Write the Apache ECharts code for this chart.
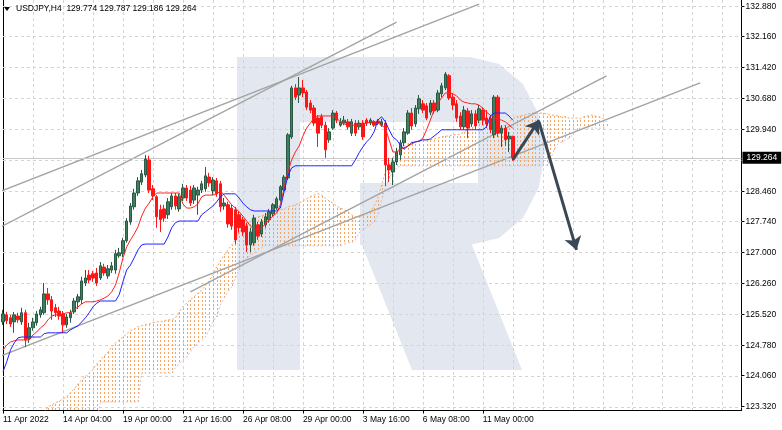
<!DOCTYPE html>
<html><head><meta charset="utf-8">
<script src="https://cdn.jsdelivr.net/npm/echarts@6/dist/echarts.min.js"></script>
<style>html,body{margin:0;padding:0;background:#fff}#c{width:782px;height:430px}</style>
</head><body><div id="c"></div>
<script>
// ---------- data ----------
const barCount = 198;              // visible H4 slots incl. empty future area
const xLabelStep = 16;
const xTickLabels = ['11 Apr 2022','14 Apr 04:00','19 Apr 00:00','21 Apr 16:00','26 Apr 08:00','29 Apr 00:00','3 May 16:00','6 May 08:00','11 May 00:00'];
const yTickLabels = ['132.880','132.160','131.420','130.680','129.940','128.460','127.740','127.000','126.260','125.520','124.780','124.060','123.320'];
const yExtraGrid = [129.20];
const yMin = 123.2245, yMax = 133.03;

const open = [125.34,125.51,125.44,125.34,125.48,125.34,125.56,124.94,125.20,125.32,
125.51,125.56,126.01,125.87,125.68,125.60,125.53,125.27,125.44,125.58,
125.82,125.87,126.27,126.46,126.49,126.51,126.39,126.65,126.44,126.58,
126.58,126.92,126.97,127.28,127.73,128.09,128.42,128.68,128.85,129.21,
128.52,128.33,128.02,128.04,127.90,128.09,128.35,128.04,128.30,128.54,
128.49,128.25,128.37,128.49,128.52,128.80,128.47,128.71,128.64,128.11,
128.14,128.06,128.02,127.90,127.78,127.63,127.18,127.23,127.66,127.44,
127.66,127.78,127.92,128.06,128.25,128.49,128.78,129.76,130.93,130.76,
130.93,130.83,130.57,130.45,130.21,130.24,130.04,129.69,129.97,130.33,
130.04,130.09,130.12,129.85,130.09,130.00,130.09,130.16,130.09,130.12,
130.14,130.04,130.09,129.09,128.92,129.16,129.33,129.62,129.85,130.33,
130.07,130.43,130.55,130.50,130.35,130.57,130.40,130.79,130.93,131.22,
130.71,130.55,130.26,130.00,130.38,130.07,130.31,130.16,130.40,130.21,
130.21,129.81,130.71,129.85,129.97,129.71,129.774];
const high = [125.63,125.58,125.51,125.58,125.56,125.68,125.63,125.32,125.44,125.60,
125.70,126.27,126.15,125.96,125.77,125.70,125.60,125.53,125.63,125.91,
126.01,126.42,126.58,126.58,126.56,126.63,126.77,126.73,126.70,126.77,
127.06,127.11,127.35,127.82,128.18,128.52,128.80,128.97,129.33,129.31,
128.61,128.37,128.14,128.14,128.30,128.42,128.42,128.40,128.64,128.61,
128.59,128.61,128.57,128.71,129.04,128.90,128.80,128.78,128.71,128.30,
128.21,128.14,128.09,127.99,127.85,127.71,127.59,127.90,127.73,127.80,
127.94,128.04,128.18,128.33,128.61,128.85,129.85,130.98,131.02,131.19,
131.12,130.88,130.64,130.52,130.28,130.31,130.12,129.97,130.40,130.38,
130.21,130.26,130.19,130.19,130.16,130.16,130.16,130.21,130.21,130.16,
130.19,130.19,130.16,129.26,129.26,129.50,129.69,129.97,130.40,130.45,
130.52,130.76,130.64,130.57,130.64,130.64,130.88,131.05,131.31,131.26,
130.81,130.64,130.35,130.50,130.45,130.40,130.40,130.52,130.47,130.40,
130.28,130.76,130.76,130.04,130.04,129.88,129.787];
const low = [125.27,125.29,125.22,125.08,125.32,125.27,124.74,124.84,125.13,125.25,
125.44,125.51,125.75,125.39,125.46,125.39,125.08,125.20,125.32,125.53,
125.65,125.77,126.20,126.27,126.30,126.20,126.34,126.44,126.37,126.51,
126.49,126.87,126.89,127.23,127.66,128.02,128.35,128.61,128.80,128.42,
128.25,127.59,127.49,127.73,127.80,128.02,128.02,127.97,128.23,128.23,
128.11,128.16,127.90,128.42,128.45,128.57,128.37,128.33,127.97,128.02,
127.59,127.54,127.20,127.47,127.39,127.01,127.01,127.16,127.30,127.37,
127.59,127.71,127.85,128.02,128.21,128.45,128.73,129.71,130.64,130.57,
130.71,130.40,130.33,130.02,129.52,129.97,129.26,129.62,129.93,130.09,
130.00,130.04,129.93,129.78,129.78,129.93,129.69,130.02,130.04,130.00,
130.04,130.00,128.59,128.68,128.61,129.09,129.21,129.54,129.81,129.93,
130.00,130.31,130.33,130.16,130.28,130.31,130.35,130.71,130.88,130.64,
130.40,130.12,129.93,129.93,129.73,130.00,129.93,130.09,130.04,129.97,
129.85,129.73,129.76,129.52,129.54,129.40,129.186];
const close = [125.53,125.37,125.29,125.51,125.39,125.56,124.91,125.20,125.34,125.53,
125.63,126.01,125.87,125.60,125.56,125.48,125.27,125.46,125.56,125.84,
125.94,126.32,126.39,126.34,126.39,126.27,126.68,126.51,126.61,126.68,
126.97,126.99,127.28,127.75,128.11,128.42,128.71,128.88,129.23,128.49,
128.35,127.85,127.78,127.82,128.21,128.35,128.11,128.33,128.54,128.30,
128.18,128.54,128.49,128.64,128.83,128.66,128.73,128.40,128.09,128.18,
127.68,127.63,127.30,127.59,127.49,127.18,127.49,127.82,127.39,127.73,
127.85,127.97,128.14,128.28,128.57,128.80,129.81,130.93,130.71,130.93,
130.81,130.47,130.40,130.09,129.85,130.04,129.45,129.88,130.33,130.16,
130.12,130.16,130.00,130.12,129.85,130.09,129.76,130.09,130.16,130.04,
130.09,130.12,129.09,128.97,129.16,129.40,129.62,129.88,130.33,130.02,
130.45,130.67,130.40,130.21,130.57,130.38,130.81,130.98,131.26,130.69,
130.52,130.21,130.00,130.40,129.97,130.31,130.02,130.43,130.16,130.07,
129.93,130.71,129.85,129.97,129.69,129.78,129.264];

const tenkan = [124.67,124.79,124.86,124.89,124.91,124.91,124.91,124.91,125.03,125.10,
125.20,125.27,125.39,125.48,125.51,125.51,125.53,125.56,125.56,125.63,
125.70,125.77,125.82,125.82,125.82,125.84,125.87,125.91,125.96,126.06,
126.22,126.51,126.87,127.13,127.30,127.44,127.61,127.87,128.06,128.18,
128.33,128.42,128.42,128.42,128.42,128.42,128.42,128.42,128.16,128.06,
128.06,128.09,128.16,128.33,128.37,128.37,128.37,128.40,128.47,128.37,
128.25,128.14,128.06,127.97,127.87,127.75,127.63,127.56,127.56,127.59,
127.68,127.78,127.87,127.94,128.14,128.54,128.92,129.21,129.40,129.54,
129.78,129.97,130.09,130.21,130.26,130.26,130.26,130.26,130.26,130.21,
130.12,130.07,130.04,130.04,130.04,130.04,130.07,130.09,130.12,130.12,
130.09,130.04,129.97,129.69,129.40,129.40,129.45,129.50,129.54,129.59,
129.64,129.66,129.73,129.93,130.16,130.40,130.57,130.69,130.81,130.81,
130.79,130.74,130.64,130.59,130.57,130.55,130.55,130.52,130.45,130.35,
130.28,130.21,130.19,130.16,130.12,130.04,129.97];
const kijun = [124.15,124.39,124.67,124.84,124.96,124.98,124.98,124.98,124.98,124.98,
124.98,125.06,125.08,125.08,125.08,125.08,125.08,125.08,125.15,125.20,
125.25,125.34,125.44,125.56,125.70,125.79,125.84,125.84,125.84,125.84,
125.84,125.99,126.30,126.58,126.70,126.87,127.06,127.18,127.20,127.20,
127.20,127.20,127.20,127.20,127.37,127.59,127.71,127.75,127.75,127.75,
127.75,127.75,127.75,127.90,127.97,128.04,128.11,128.21,128.33,128.40,
128.40,128.40,128.40,128.30,128.18,128.09,128.02,127.99,127.99,127.99,
127.99,127.99,127.99,127.99,128.06,128.45,128.83,129.02,129.07,129.07,
129.07,129.07,129.07,129.07,129.07,129.07,129.07,129.07,129.07,129.07,
129.07,129.07,129.07,129.07,129.21,129.38,129.52,129.64,129.73,129.88,
130.16,130.24,130.12,129.93,129.76,129.69,129.57,129.47,129.54,129.62,
129.64,129.66,129.69,129.69,129.71,129.78,129.85,129.93,129.93,129.93,
129.93,129.93,129.93,129.93,129.93,129.93,129.93,129.93,129.93,130.00,
130.26,130.33,130.33,130.33,130.33,130.26,130.16];

const kumoStart = 10;   // first bar index of the cloud arrays
const spanA = [123.14,123.19,123.31,123.36,123.41,123.45,123.50,123.55,123.65,123.74,
123.86,123.96,124.03,124.12,124.20,124.34,124.43,124.53,124.62,124.74,
124.84,124.91,124.98,125.06,125.13,125.17,125.22,125.25,125.27,125.29,
125.32,125.34,125.34,125.37,125.39,125.39,125.44,125.58,125.70,125.79,
125.87,125.94,126.03,126.10,126.20,126.32,126.46,126.65,126.80,126.94,
127.06,127.18,127.30,127.47,127.59,127.68,127.75,127.82,127.85,127.87,
127.90,127.94,127.97,127.99,128.02,128.04,128.09,128.11,128.14,128.18,
128.23,128.28,128.33,128.37,128.40,128.37,128.30,128.23,128.18,128.11,
128.06,128.02,127.97,127.90,127.85,127.85,127.87,127.92,127.97,128.11,
128.30,128.61,128.92,129.09,129.26,129.40,129.50,129.54,129.59,129.64,
129.64,129.66,129.66,129.69,129.69,129.71,129.73,129.76,129.78,129.78,
129.81,129.81,129.83,129.88,129.93,129.97,130.02,130.09,130.14,130.16,
130.12,130.04,130.00,130.00,130.04,130.12,130.19,130.24,130.26,130.28,
130.31,130.33,130.33,130.33,130.33,130.31,130.28,130.28,130.26,130.24,
130.24,130.21,130.21,130.21,130.19,130.24,130.26,130.28,130.26,130.24,
130.21,130.12];
const spanB = [123.00,123.00,123.00,123.00,123.00,123.00,123.00,123.00,123.00,123.00,
123.00,123.00,123.00,123.00,123.00,123.00,123.43,123.43,123.43,123.43,
123.43,123.43,123.43,123.43,123.43,123.43,123.43,124.12,124.12,124.12,
124.12,124.12,124.12,124.12,124.12,124.12,124.24,124.34,124.43,124.51,
124.62,124.74,124.84,124.91,124.98,125.15,125.34,125.46,125.75,125.91,
126.06,126.18,126.39,126.58,126.73,126.87,126.92,126.99,127.06,127.11,
127.16,127.16,127.16,127.16,127.16,127.16,127.16,127.16,127.16,127.16,
127.16,127.16,127.16,127.16,127.16,127.16,127.16,127.16,127.16,127.16,
127.16,127.20,127.23,127.23,127.30,127.47,127.54,127.59,127.66,127.73,
127.90,128.25,128.54,128.78,128.92,129.02,129.07,129.07,129.07,129.07,
129.07,129.07,129.07,129.07,129.07,129.07,129.07,129.07,129.07,129.07,
129.07,129.07,129.07,129.07,129.07,129.07,129.07,129.07,129.07,129.07,
129.07,129.07,129.07,129.07,129.07,129.07,129.07,129.07,129.07,129.07,
129.07,129.07,129.07,129.07,129.07,129.07,129.21,129.45,129.59,129.64,
129.69,129.73,129.81,129.93,129.97,129.97,129.97,129.97,129.97,129.97,
129.97,129.97];

const lastPrice = 129.264;
const headerText = 'USDJPY,H4  129.774 129.787 129.186 129.264';
// trend lines: [barIndex, price] pairs
const trendLines = [
  [[-0.72,128.45],[127.3,132.93]],
  [[-0.72,127.59],[105.4,132.50]],
  [[-0.72,124.51],[186.0,131.05]],
  [[49.95,126.06],[160.9,131.22]]
];
// forecast arrows
const arrows = [
  [[136,129.21],[142.5,130.16]],
  [[143,130.12],[153.4,127.06]]
];

// ---------- chart ----------
const chart = echarts.init(document.getElementById('c'), null, {renderer:'canvas'});
const cats = Array.from({length: barCount}, (_, i) => String(i));
const yTickValues = yTickLabels.map(parseFloat);
const gridValues = yTickValues.concat(yExtraGrid);
const candles = open.map((o, i) => [o, close[i], low[i], high[i]]);
const kumo = spanA.map((a, k) => [kumoStart + k, a, spanB[k]]);
const pad = Array(kumoStart).fill(null);
const FONT = 'Liberation Sans';

// watermark logo (decorative, pixel shapes)
const wm = '#e3e8f0';
const bowl = [[300,57],[470,57],[499,64],[523,84],[539,115],[545,151],[539,187],[523,218],[499,238],[470,245],[300,245]];
const option = {
  animation: false,
  backgroundColor: '#ffffff',
  grid: {left: 2.7, right: 40.55, top: 0, bottom: 19.5, containLabel: false},
  xAxis: {
    type: 'category', data: cats, boundaryGap: false,
    axisLine: {show: true, lineStyle: {color: '#000', width: 1}},
    axisTick: {show: true, length: 3, lineStyle: {color: '#000'},
      interval: (i) => i % xLabelStep === 0 && i / xLabelStep < xTickLabels.length},
    axisLabel: {show: true, align: 'left', margin: 5, color: '#000', fontFamily: FONT, fontSize: 8.5,
      interval: (i) => i % xLabelStep === 0 && i / xLabelStep < xTickLabels.length,
      formatter: (v, i) => (i % xLabelStep === 0 && xTickLabels[i / xLabelStep]) || ''},
    splitLine: {show: true, interval: 7, lineStyle: {color: '#d4d4d4', type: [3, 3], width: 1}}
  },
  yAxis: [{
    type: 'value', position: 'right', min: yMin, max: yMax,
    axisLine: {show: true, lineStyle: {color: '#000', width: 1}},
    axisTick: {show: true, length: 3, customValues: yTickValues, lineStyle: {color: '#000'}},
    axisLabel: {show: true, margin: 4, color: '#000', fontFamily: FONT, fontSize: 8.5,
      customValues: yTickValues, formatter: (v) => v.toFixed(3)},
    splitLine: {show: false}
  }, {
    type: 'value', position: 'left', min: yMin, max: yMax,
    axisLine: {show: true, lineStyle: {color: '#000', width: 1}},
    axisTick: {show: false}, axisLabel: {show: false}, splitLine: {show: false}
  }],
  graphic: {elements: [
    {type: 'rect', z: -10, silent: true, shape: {x: 237, y: 57, width: 63, height: 313}, style: {fill: wm}},
    {type: 'polygon', z: -10, silent: true, shape: {points: bowl}, style: {fill: wm}},
    {type: 'polygon', z: -10, silent: true, shape: {points: [[362,245],[472,245],[522,370],[412,370]]}, style: {fill: wm}},
    {type: 'rect', z: -9, silent: true, shape: {x: 300, y: 122, width: 178, height: 61}, style: {fill: '#fff'}},
    {type: 'rect', z: -9, silent: true, shape: {x: 300, y: 183, width: 60, height: 62}, style: {fill: '#fff'}},
    // header
    {type: 'polygon', z: 50, shape: {points: [[4,7],[10,7],[7,11]]}, style: {fill: '#000'}},
    {type: 'text', z: 50, left: 16, top: 4, style: {text: headerText, fill: '#000', font: '8.5px "Liberation Sans"'}}
  ]},
  series: [
    { // horizontal dashed grid lines
      type: 'custom', z: 1, silent: true, data: gridValues.map(v => [0, v]),
      encode: {x: 0, y: 1},
      renderItem: (params, api) => {
        const cs = params.coordSys; const y = Math.round(api.coord([0, api.value(1)])[1]) + 0.5;
        return {type: 'line', shape: {x1: cs.x, y1: y, x2: cs.x + cs.width, y2: y},
          style: {stroke: '#d4d4d4', lineWidth: 1, lineDash: [3, 3]}};
      }
    },
    { // kumo hatching
      type: 'custom', z: 2, silent: true, data: kumo, encode: {x: 0, y: [1, 2]},
      renderItem: (params, api) => {
        const cs = params.coordSys; const bottom = cs.y + cs.height;
        const p1 = api.coord([api.value(0), api.value(1)]);
        const p2 = api.coord([api.value(0), api.value(2)]);
        let y1 = Math.min(p1[1], p2[1]); let y2 = Math.min(Math.max(p1[1], p2[1]), bottom);
        if (y1 >= bottom) return {type: 'group', children: []};
        const x = Math.round(p1[0]) + 0.5;
        return {type: 'line', shape: {x1: x, y1: y1, x2: x, y2: y2},
          style: {stroke: '#f4a460', lineWidth: 1, lineDash: [2, 2], lineDashOffset: y1 % 4}};
      }
    },
    {type: 'line', name: 'spanA', z: 3, data: pad.concat(spanA), showSymbol: false, silent: true,
      lineStyle: {color: '#f4a460', width: 1, type: [2, 2]}},
    {type: 'line', name: 'spanB', z: 3, data: pad.concat(spanB), showSymbol: false, silent: true,
      lineStyle: {color: '#d8bfd8', width: 1, type: [2, 2]}},
    {type: 'lines', z: 4, coordinateSystem: 'cartesian2d', silent: true, clip: true,
      data: trendLines.map(c => ({coords: c})),
      lineStyle: {color: '#a3a3a3', width: 1.4, opacity: 1}},
    {type: 'candlestick', z: 5, data: candles, barWidth: 3, silent: true,
      itemStyle: {color: '#3f7f5f', color0: '#ff1515', borderColor: '#2a5a44', borderColor0: '#ff1515', borderWidth: 1},
      markLine: {silent: true, symbol: 'none',
        lineStyle: {color: '#c8c8c8', type: 'solid', width: 1},
        label: {show: true, position: 'end', distance: 1, formatter: lastPrice.toFixed(3),
          backgroundColor: '#000', color: '#fff', padding: [2, 4, 1, 4], fontFamily: FONT, fontSize: 8.5},
        data: [{yAxis: lastPrice}]}
    },
    {type: 'line', name: 'tenkan', z: 6, data: tenkan, showSymbol: false, silent: true,
      lineStyle: {color: '#ff2020', width: 1}},
    {type: 'line', name: 'kijun', z: 6, data: kijun, showSymbol: false, silent: true,
      lineStyle: {color: '#2020ff', width: 1}},
    {type: 'lines', z: 7, coordinateSystem: 'cartesian2d', silent: true,
      data: arrows.map(c => ({coords: c})), symbol: ['none', 'arrow'], symbolSize: 13,
      lineStyle: {color: '#3a4856', width: 3, opacity: 1}}
  ]
};
chart.setOption(option);
</script>
</body></html>
